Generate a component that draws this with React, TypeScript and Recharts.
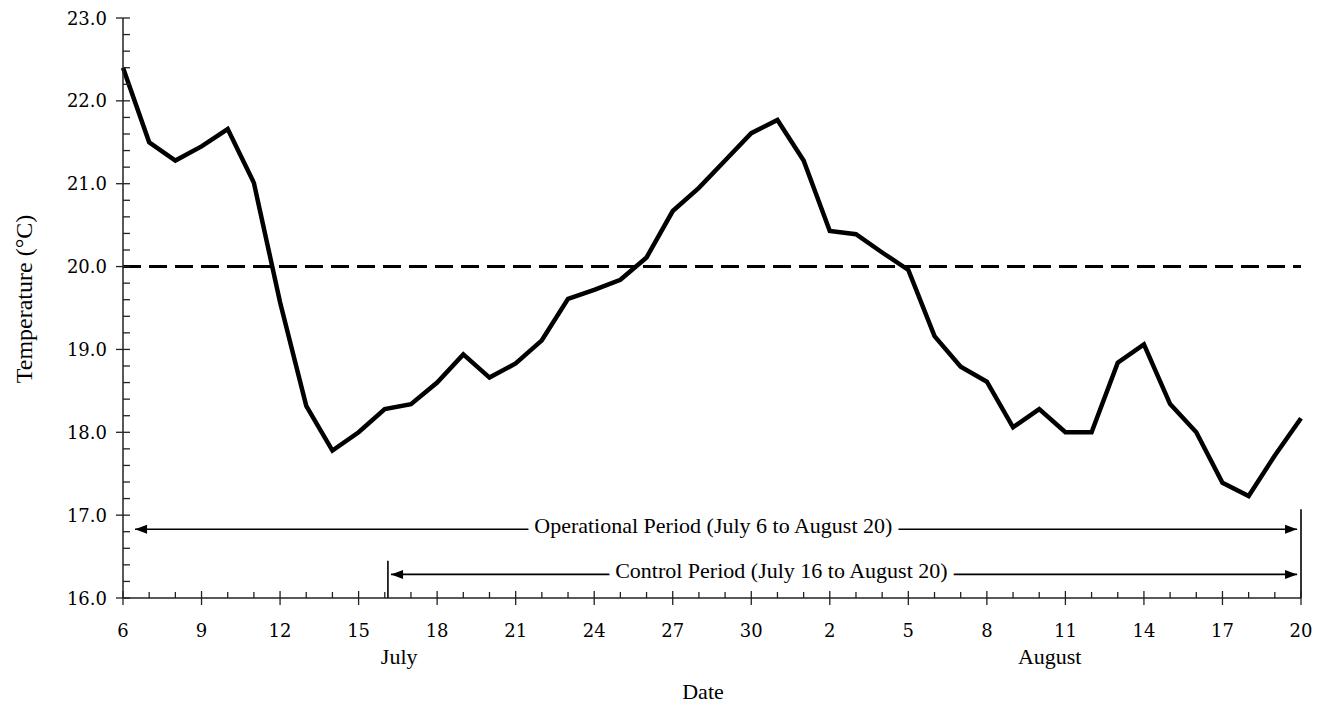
import React from 'react';
import { LineChart, Line, XAxis, YAxis, ReferenceLine } from 'recharts';

// Daily mean temperature, July 6 to August 20
const dates = [
  'Jul 6', 'Jul 7', 'Jul 8', 'Jul 9', 'Jul 10', 'Jul 11', 'Jul 12', 'Jul 13', 'Jul 14', 'Jul 15',
  'Jul 16', 'Jul 17', 'Jul 18', 'Jul 19', 'Jul 20', 'Jul 21', 'Jul 22', 'Jul 23', 'Jul 24', 'Jul 25',
  'Jul 26', 'Jul 27', 'Jul 28', 'Jul 29', 'Jul 30', 'Jul 31', 'Aug 1', 'Aug 2', 'Aug 3', 'Aug 4',
  'Aug 5', 'Aug 6', 'Aug 7', 'Aug 8', 'Aug 9', 'Aug 10', 'Aug 11', 'Aug 12', 'Aug 13', 'Aug 14',
  'Aug 15', 'Aug 16', 'Aug 17', 'Aug 18', 'Aug 19', 'Aug 20',
];
const temperatures = [
  22.40, 21.50, 21.28, 21.45, 21.66, 21.01, 19.57, 18.32, 17.78, 18.00,
  18.28, 18.34, 18.60, 18.94, 18.66, 18.83, 19.11, 19.61, 19.72, 19.84,
  20.11, 20.67, 20.95, 21.28, 21.61, 21.77, 21.28, 20.43, 20.39, 20.17,
  19.96, 19.16, 18.79, 18.61, 18.06, 18.28, 18.00, 18.00, 18.84, 19.06,
  18.34, 18.00, 17.39, 17.23, 17.72, 18.17,
];
const xMajorTickDays = [0, 3, 6, 9, 12, 15, 18, 21, 24, 27, 30, 33, 36, 39, 42, 45];
const xTickLabels = ['6', '9', '12', '15', '18', '21', '24', '27', '30', '2', '5', '8', '11', '14', '17', '20'];
const yMajorTicks = [16, 17, 18, 19, 20, 21, 22, 23];
const yMinorSteps = [0.2, 0.4, 0.6, 0.8];
const monthLabels = ['July', 'August'];
const monthLabelDays = [10.55, 35.4];
const targetTemperature = 20;

// Period annotations (in data units: day index, temperature level)
const operationalPeriod = { label: 'Operational Period (July 6 to August 20)', from: 0.46, to: 44.85, level: 16.83, textDay: 22.55, markDay: 45, markTop: 17.07 };
const controlPeriod = { label: 'Control Period (July 16 to August 20)', from: 10.24, to: 44.85, level: 16.285, textDay: 25.15, markDay: 10.12, markTop: 16.45 };

const rows = dates.map((d, i) => ({ day: i, date: d, temp: temperatures[i] }));
const allDays = dates.map((_, i) => i);
const yTicks: number[] = [];
yMajorTicks.forEach((t, k) => {
  yTicks.push(t);
  if (k < yMajorTicks.length - 1) yMinorSteps.forEach((s) => yTicks.push(Math.round((t + s) * 10) / 10));
});

const TICK_FONT = '"DejaVu Serif", serif';
const LABEL_FONT = '"Liberation Serif", "Times New Roman", serif';
const INK = '#000';
const AXIS = '#222';

const XTick = (props: any) => {
  const { x, y, payload } = props;
  const idx = xMajorTickDays.indexOf(payload.value);
  const major = idx >= 0;
  return (
    <g>
      <line x1={x} x2={x} y1={major ? y - 7 : y - 6} y2={major ? y + 7 : y} stroke={AXIS} strokeWidth={1.3} />
      {major && (
        <text x={x} y={y + 39} textAnchor="middle" fontFamily={TICK_FONT} fontSize={18} fill={INK}>
          {xTickLabels[idx]}
        </text>
      )}
    </g>
  );
};

const YTick = (props: any) => {
  const { x, y, payload } = props;
  const v = payload.value as number;
  const major = Math.abs(v - Math.round(v)) < 1e-6;
  return (
    <g>
      <line x1={major ? x - 7 : x} x2={x + 7} y1={y} y2={y} stroke={AXIS} strokeWidth={1.3} />
      {major && (
        <text x={x - 16} y={y + 6.5} textAnchor="end" fontFamily={TICK_FONT} fontSize={18} fill={INK}>
          {v.toFixed(1)}
        </text>
      )}
    </g>
  );
};

const MonthTick = (props: any) => {
  const { x, y, payload } = props;
  const idx = monthLabelDays.indexOf(payload.value);
  return (
    <text x={x} y={y + 26} textAnchor="middle" fontFamily={LABEL_FONT} fontSize={22} fill={INK}>
      {monthLabels[idx]}
    </text>
  );
};

const makeArrow = (p: typeof operationalPeriod) => (sp: any) => {
  const { x1, y1, x2, y2 } = sp;
  const tx = x1 + ((p.textDay - p.from) / (p.to - p.from)) * (x2 - x1);
  const L = 12;
  const H = 4.5;
  return (
    <g>
      <line x1={x1} y1={y1} x2={x2} y2={y2} stroke={INK} strokeWidth={1.6} />
      <polygon points={`${x1},${y1} ${x1 + L},${y1 - H} ${x1 + L},${y1 + H}`} fill={INK} />
      <polygon points={`${x2},${y2} ${x2 - L},${y2 - H} ${x2 - L},${y2 + H}`} fill={INK} />
      <text
        x={tx}
        y={y1 + 4}
        textAnchor="middle"
        fontFamily={LABEL_FONT}
        fontSize={22}
        fill={INK}
        stroke="#fff"
        strokeWidth={14}
        strokeLinejoin="round"
        paintOrder="stroke"
      >
        {p.label}
      </text>
    </g>
  );
};

export default function App() {
  return (
    <LineChart width={1316} height={698} data={rows} margin={{ top: 10, right: 23, left: 0, bottom: 0 }}>
      <XAxis
        dataKey="day"
        type="number"
        domain={[0, 45]}
        ticks={allDays}
        interval={0}
        tickSize={0}
        tickMargin={0}
        tickLine={false}
        tick={<XTick />}
        axisLine={{ stroke: AXIS, strokeWidth: 1.5 }}
        height={40}
      />
      <XAxis
        xAxisId="month"
        dataKey="day"
        type="number"
        domain={[0, 45]}
        ticks={monthLabelDays}
        interval={0}
        tickSize={0}
        tickMargin={0}
        tickLine={false}
        axisLine={false}
        tick={<MonthTick />}
        height={68}
        label={{
          content: (lp: any) => {
            const vb = lp.viewBox || {};
            return (
              <text x={vb.x + vb.width / 2 - 9} y={vb.y + 61} textAnchor="middle" fontFamily={LABEL_FONT} fontSize={22} fill={INK}>
                Date
              </text>
            );
          },
        }}
      />
      <YAxis
        type="number"
        domain={[16, 23]}
        ticks={yTicks}
        interval={0}
        width={115}
        tickSize={0}
        tickMargin={0}
        tickLine={false}
        tick={<YTick />}
        axisLine={{ stroke: AXIS, strokeWidth: 1.5 }}
        label={{
          content: (lp: any) => {
            const vb = lp.viewBox || {};
            const cx = vb.x + 24;
            const cy = vb.y + vb.height / 2 - 9;
            return (
              <text x={cx} y={cy} transform={`rotate(-90, ${cx}, ${cy})`} textAnchor="middle" fontFamily={LABEL_FONT} fontSize={24} fill={INK}>
                Temperature (°C)
              </text>
            );
          },
        }}
      />
      <ReferenceLine y={targetTemperature} stroke={INK} strokeWidth={3} strokeDasharray="18 8" />
      <ReferenceLine
        segment={[{ x: operationalPeriod.from, y: operationalPeriod.level }, { x: operationalPeriod.to, y: operationalPeriod.level }]}
        shape={makeArrow(operationalPeriod)}
      />
      <ReferenceLine
        segment={[{ x: controlPeriod.from, y: controlPeriod.level }, { x: controlPeriod.to, y: controlPeriod.level }]}
        shape={makeArrow(controlPeriod)}
      />
      <ReferenceLine
        segment={[{ x: operationalPeriod.markDay, y: operationalPeriod.markTop }, { x: operationalPeriod.markDay, y: 16 }]}
        stroke={INK}
        strokeWidth={1.6}
      />
      <ReferenceLine
        segment={[{ x: controlPeriod.markDay, y: controlPeriod.markTop }, { x: controlPeriod.markDay, y: 16 }]}
        stroke={INK}
        strokeWidth={1.6}
      />
      <Line
        type="linear"
        dataKey="temp"
        stroke={INK}
        strokeWidth={4.5}
        dot={false}
        activeDot={false}
        isAnimationActive={false}
      />
    </LineChart>
  );
}
